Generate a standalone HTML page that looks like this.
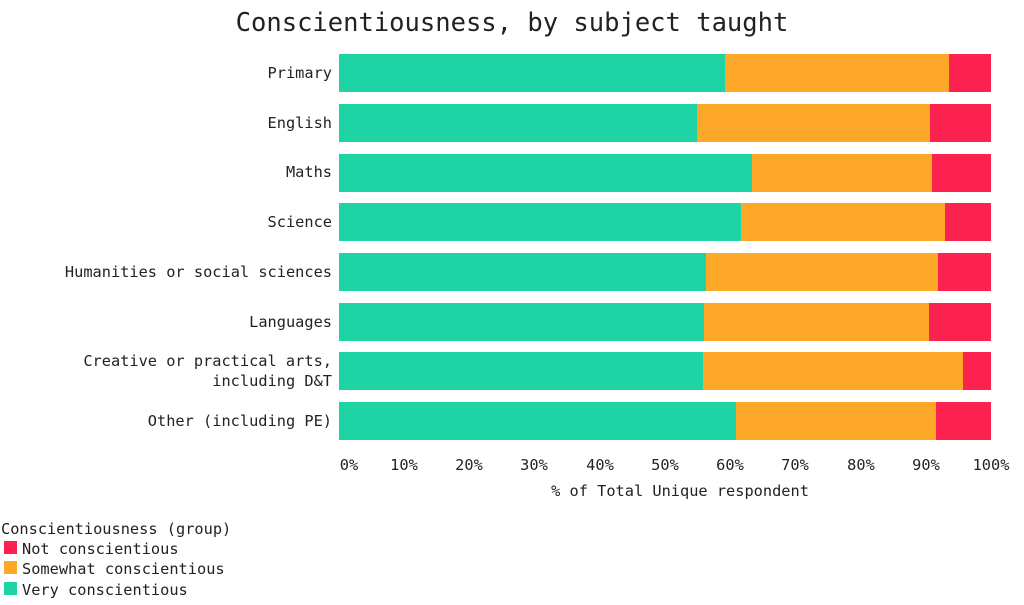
<!DOCTYPE html>
<html><head><meta charset="utf-8"><style>
body{margin:0;background:#fff;}
svg text{font-family:"DejaVu Sans Mono","Liberation Mono",monospace;fill:#222;}
</style></head><body>
<svg width="1024" height="600" xmlns="http://www.w3.org/2000/svg">
<text x="512" y="31" text-anchor="middle" font-size="25.5">Conscientiousness, by subject taught</text>
<g font-size="15.3" text-anchor="end">
<text x="332" y="78">Primary</text>
<text x="332" y="128">English</text>
<text x="332" y="177">Maths</text>
<text x="332" y="227">Science</text>
<text x="332" y="277">Humanities or social sciences</text>
<text x="332" y="327">Languages</text>
<text x="332" y="366">Creative or practical arts,</text>
<text x="332" y="386">including D&amp;T</text>
<text x="332" y="426">Other (including PE)</text>
</g>
<g>
<rect x="339" y="54" width="386" height="38" fill="#1ed4a4"/><rect x="725" y="54" width="224" height="38" fill="#fea82a"/><rect x="949" y="54" width="42" height="38" fill="#fb2250"/>
<rect x="339" y="104" width="358" height="38" fill="#1ed4a4"/><rect x="697" y="104" width="233" height="38" fill="#fea82a"/><rect x="930" y="104" width="61" height="38" fill="#fb2250"/>
<rect x="339" y="154" width="413" height="38" fill="#1ed4a4"/><rect x="752" y="154" width="180" height="38" fill="#fea82a"/><rect x="932" y="154" width="59" height="38" fill="#fb2250"/>
<rect x="339" y="203" width="402" height="38" fill="#1ed4a4"/><rect x="741" y="203" width="204" height="38" fill="#fea82a"/><rect x="945" y="203" width="46" height="38" fill="#fb2250"/>
<rect x="339" y="253" width="367" height="38" fill="#1ed4a4"/><rect x="706" y="253" width="232" height="38" fill="#fea82a"/><rect x="938" y="253" width="53" height="38" fill="#fb2250"/>
<rect x="339" y="303" width="365" height="38" fill="#1ed4a4"/><rect x="704" y="303" width="225" height="38" fill="#fea82a"/><rect x="929" y="303" width="62" height="38" fill="#fb2250"/>
<rect x="339" y="352" width="364" height="38" fill="#1ed4a4"/><rect x="703" y="352" width="260" height="38" fill="#fea82a"/><rect x="963" y="352" width="28" height="38" fill="#fb2250"/>
<rect x="339" y="402" width="397" height="38" fill="#1ed4a4"/><rect x="736" y="402" width="200" height="38" fill="#fea82a"/><rect x="936" y="402" width="55" height="38" fill="#fb2250"/>
</g>
<g font-size="15.3" text-anchor="middle">
<text x="349" y="470">0%</text><text x="404" y="470">10%</text><text x="469" y="470">20%</text><text x="534" y="470">30%</text><text x="600" y="470">40%</text><text x="665" y="470">50%</text><text x="730" y="470">60%</text><text x="795" y="470">70%</text><text x="861" y="470">80%</text><text x="926" y="470">90%</text><text x="991" y="470">100%</text>
<text x="680" y="496">% of Total Unique respondent</text>
</g>
<g font-size="15.3">
<text x="1" y="534">Conscientiousness (group)</text>
<rect x="4" y="541" width="13" height="13" fill="#fb2250"/><text x="22" y="554">Not conscientious</text>
<rect x="4" y="561" width="13" height="13" fill="#fea82a"/><text x="22" y="574">Somewhat conscientious</text>
<rect x="4" y="582" width="13" height="13" fill="#1ed4a4"/><text x="22" y="595">Very conscientious</text>
</g>
</svg>
</body></html>
